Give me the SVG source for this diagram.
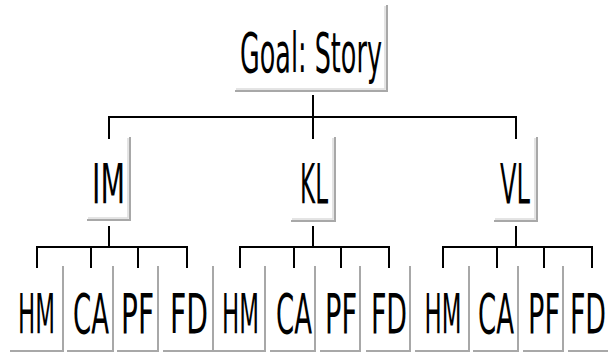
<svg xmlns="http://www.w3.org/2000/svg" width="608" height="359" viewBox="0 0 608 359">
<style>
.sh{fill:none;stroke:#a8a8a8;stroke-width:2}
.sh2{fill:none;stroke:#dcdcdc;stroke-width:1.5}
.t{font-family:"DejaVu Sans","Liberation Sans",sans-serif;font-size:55px;fill:#000;text-anchor:middle}
.c{fill:none;stroke:#000;stroke-width:2}
</style>
<rect width="608" height="359" fill="#fff"/>
<g id="connectors">
<path class="c" d="M313,95V117M109,139V117H516V139M313,117V139"/>
<path class="c" d="M109,226V247M37,268V247H187V268M91,247V268M138,247V268"/>
<path class="c" d="M313,226V247M240,268V247H389V268M294,247V268M341,247V268"/>
<path class="c" d="M516,226V247M443,268V247H592V268M497,247V268M544,247V268"/>
</g>
<g id="goal">
<path class="sh2" d="M385,6V89H236"/><path class="sh" d="M387,5V91H235"/>
<text class="t" transform="translate(311,72) scale(0.463,1)">Goal: Story</text>
</g>
<g id="im">
<path class="sh2" d="M128,138V218H88"/><path class="sh" d="M130,137V220H87"/>
<text class="t" transform="translate(108.5,203) scale(0.518,1)">IM</text>
</g>
<g id="kl">
<path class="sh2" d="M333,138V219H292"/><path class="sh" d="M335,137V221H291"/>
<text class="t" transform="translate(314,203) scale(0.42,1)">KL</text>
</g>
<g id="vl">
<path class="sh2" d="M535,138V219H495"/><path class="sh" d="M537,137V221H494"/>
<text class="t" transform="translate(515,203) scale(0.44,1)">VL</text>
</g>
<g id="im-hm"><path class="sh" d="M63,266V351H10"/><text class="t" transform="translate(36.5,333) scale(0.417,1)">HM</text></g>
<g id="im-ca"><path class="sh" d="M113,266V351H67"/><text class="t" transform="translate(91,333) scale(0.474,1)">CA</text></g>
<g id="im-pf"><path class="sh" d="M158,266V351H117"/><text class="t" transform="translate(137.5,333) scale(0.509,1)">PF</text></g>
<g id="im-fd"><path class="sh" d="M213,266V351H163"/><text class="t" transform="translate(189,333) scale(0.514,1)">FD</text></g>
<g id="kl-hm"><path class="sh" d="M265,266V351H213"/><text class="t" transform="translate(240.5,333) scale(0.417,1)">HM</text></g>
<g id="kl-ca"><path class="sh" d="M315,266V351H270"/><text class="t" transform="translate(294,333) scale(0.474,1)">CA</text></g>
<g id="kl-pf"><path class="sh" d="M360,266V351H320"/><text class="t" transform="translate(341,333) scale(0.494,1)">PF</text></g>
<g id="kl-fd"><path class="sh" d="M410,266V351H366"/><text class="t" transform="translate(389,333) scale(0.49,1)">FD</text></g>
<g id="vl-hm"><path class="sh" d="M469,266V351H415"/><text class="t" transform="translate(443,333) scale(0.417,1)">HM</text></g>
<g id="vl-ca"><path class="sh" d="M518,266V351H473"/><text class="t" transform="translate(496,333) scale(0.474,1)">CA</text></g>
<g id="vl-pf"><path class="sh" d="M563,266V351H523"/><text class="t" transform="translate(544,333) scale(0.494,1)">PF</text></g>
<g id="vl-fd"><path class="sh" d="M612,266V351H568"/><text class="t" transform="translate(588,333) scale(0.49,1)">FD</text></g>
</svg>
